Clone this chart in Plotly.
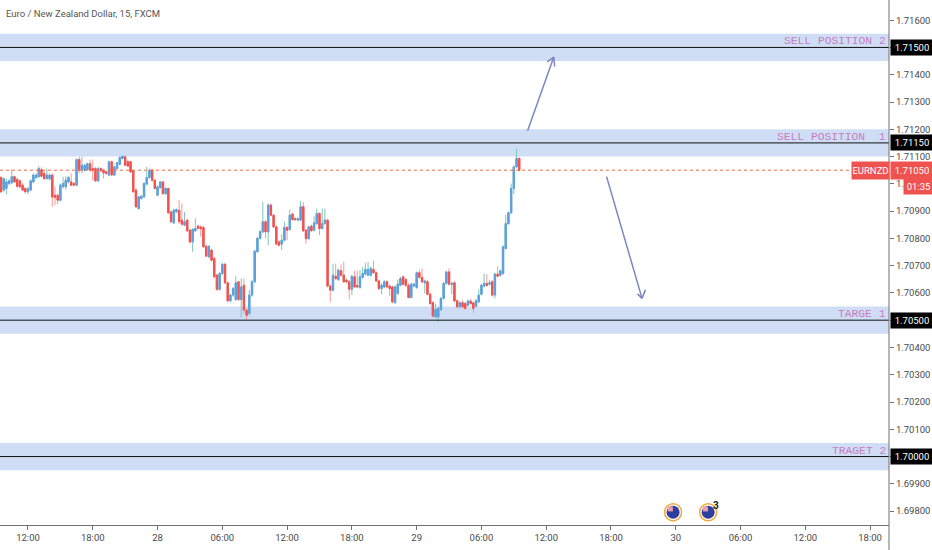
import plotly.graph_objects as go

# 15 minute bars, bar 0 is 27th 09:30
opens = [
    1.71023,1.70977,1.70983,1.71001,1.71004,1.71026,1.71016,1.71011,1.70995,1.70983,
    1.70971,1.70977,1.71007,1.71023,1.71026,1.71052,1.71038,1.71019,1.71018,1.71032,
    1.70958,1.70958,1.70940,1.70989,1.70989,1.71007,1.71007,1.71001,1.70995,1.71089,
    1.71050,1.71050,1.71052,1.71074,1.71056,1.71056,1.71011,1.71056,1.71050,1.71044,
    1.71032,1.71081,1.71032,1.71056,1.71072,1.71093,1.71099,1.71081,1.71081,1.71048,
    1.70977,1.70909,1.70946,1.70952,1.70999,1.71023,1.71050,1.71013,1.70958,1.70986,
    1.71007,1.70964,1.70983,1.70897,1.70857,1.70897,1.70903,1.70867,1.70848,1.70867,
    1.70830,1.70787,1.70828,1.70845,1.70842,1.70840,1.70771,1.70732,1.70757,1.70726,
    1.70665,1.70613,1.70671,1.70705,1.70637,1.70571,1.70592,1.70576,1.70641,1.70576,
    1.70628,1.70537,1.70525,1.70592,1.70641,1.70751,1.70800,1.70824,1.70861,1.70824,
    1.70922,1.70885,1.70842,1.70787,1.70779,1.70793,1.70840,1.70833,1.70889,1.70873,
    1.70867,1.70867,1.70916,1.70830,1.70799,1.70845,1.70830,1.70854,1.70891,1.70836,
    1.70854,1.70867,1.70625,1.70610,1.70661,1.70649,1.70681,1.70665,1.70647,1.70641,
    1.70613,1.70659,1.70627,1.70620,1.70657,1.70669,1.70665,1.70665,1.70686,1.70674,
    1.70644,1.70616,1.70622,1.70641,1.70625,1.70622,1.70564,1.70598,1.70628,1.70659,
    1.70649,1.70628,1.70583,1.70625,1.70620,1.70674,1.70657,1.70637,1.70641,1.70595,
    1.70564,1.70512,1.70512,1.70539,1.70580,1.70635,1.70677,1.70631,1.70637,1.70571,
    1.70549,1.70564,1.70561,1.70555,1.70570,1.70564,1.70551,1.70567,1.70595,1.70625,
    1.70635,1.70632,1.70641,1.70592,1.70669,1.70665,1.70671,1.70763,1.70854,1.70894,1.70983,1.71062,1.71093,
]
highs = [
    1.71028,1.71023,1.71019,1.71016,1.71052,1.71030,1.71023,1.71016,1.71004,1.70986,
    1.70989,1.71016,1.71038,1.71038,1.71065,1.71060,1.71048,1.71056,1.71038,1.71038,
    1.70989,1.70964,1.71001,1.71026,1.71028,1.71028,1.71038,1.71007,1.71093,1.71099,
    1.71099,1.71072,1.71077,1.71089,1.71089,1.71062,1.71062,1.71060,1.71055,1.71048,
    1.71084,1.71084,1.71067,1.71081,1.71101,1.71104,1.71103,1.71087,1.71084,1.71050,
    1.70983,1.70957,1.70958,1.71006,1.71062,1.71056,1.71055,1.71017,1.70994,1.71011,
    1.71011,1.70989,1.70986,1.70901,1.70909,1.70909,1.70940,1.70928,1.70897,1.70872,
    1.70835,1.70837,1.70873,1.70850,1.70847,1.70845,1.70776,1.70775,1.70762,1.70732,
    1.70669,1.70676,1.70710,1.70710,1.70642,1.70597,1.70622,1.70661,1.70644,1.70653,
    1.70653,1.70543,1.70610,1.70647,1.70757,1.70806,1.70830,1.70934,1.70867,1.70928,
    1.70928,1.70889,1.70847,1.70793,1.70815,1.70861,1.70845,1.70906,1.70894,1.70876,
    1.70876,1.70938,1.70933,1.70835,1.70847,1.70850,1.70881,1.70909,1.70896,1.70909,
    1.70909,1.70872,1.70630,1.70705,1.70708,1.70690,1.70705,1.70714,1.70653,1.70647,
    1.70665,1.70681,1.70681,1.70683,1.70696,1.70710,1.70714,1.70696,1.70718,1.70679,
    1.70649,1.70635,1.70647,1.70647,1.70630,1.70627,1.70627,1.70649,1.70659,1.70664,
    1.70654,1.70635,1.70637,1.70637,1.70679,1.70686,1.70690,1.70649,1.70647,1.70600,
    1.70569,1.70561,1.70549,1.70584,1.70640,1.70681,1.70690,1.70640,1.70642,1.70576,
    1.70569,1.70573,1.70566,1.70576,1.70578,1.70569,1.70578,1.70613,1.70633,1.70671,
    1.70669,1.70647,1.70647,1.70674,1.70698,1.70686,1.70774,1.70886,1.70898,1.71001,1.71067,1.71129,1.71099,
]
lows = [
    1.70967,1.70971,1.70962,1.70995,1.70999,1.71004,1.70986,1.70985,1.70973,1.70964,
    1.70962,1.70973,1.71004,1.71018,1.71023,1.71023,1.71016,1.71016,1.71013,1.70916,
    1.70922,1.70925,1.70935,1.70983,1.70979,1.71001,1.70991,1.70991,1.70991,1.71038,
    1.71038,1.71045,1.71048,1.71045,1.71013,1.71007,1.71007,1.71043,1.71019,1.71034,
    1.71028,1.71028,1.71028,1.71052,1.71068,1.71089,1.71065,1.71062,1.71040,1.70967,
    1.70911,1.70906,1.70942,1.70947,1.70994,1.71019,1.71008,1.70979,1.70955,1.70982,
    1.70960,1.70960,1.70889,1.70857,1.70852,1.70894,1.70854,1.70847,1.70845,1.70823,
    1.70781,1.70751,1.70823,1.70833,1.70806,1.70764,1.70732,1.70729,1.70715,1.70654,
    1.70608,1.70608,1.70666,1.70632,1.70566,1.70566,1.70586,1.70571,1.70571,1.70510,
    1.70525,1.70502,1.70518,1.70586,1.70635,1.70747,1.70796,1.70820,1.70800,1.70775,
    1.70881,1.70837,1.70775,1.70771,1.70757,1.70788,1.70793,1.70828,1.70864,1.70864,
    1.70863,1.70862,1.70823,1.70781,1.70796,1.70823,1.70825,1.70850,1.70812,1.70833,
    1.70850,1.70620,1.70567,1.70605,1.70647,1.70644,1.70661,1.70635,1.70635,1.70576,
    1.70592,1.70617,1.70617,1.70615,1.70652,1.70664,1.70661,1.70659,1.70669,1.70639,
    1.70610,1.70595,1.70617,1.70617,1.70588,1.70562,1.70561,1.70593,1.70625,1.70627,
    1.70622,1.70580,1.70580,1.70620,1.70615,1.70652,1.70635,1.70598,1.70591,1.70556,
    1.70510,1.70507,1.70494,1.70534,1.70576,1.70630,1.70627,1.70595,1.70566,1.70544,
    1.70544,1.70543,1.70538,1.70550,1.70556,1.70527,1.70547,1.70562,1.70591,1.70620,
    1.70622,1.70627,1.70586,1.70580,1.70657,1.70659,1.70666,1.70759,1.70850,1.70889,1.70962,1.71057,1.71045,
]
closes = [
    1.70971,1.71019,1.71007,1.71011,1.71026,1.71007,1.70991,1.70989,1.70977,1.70971,
    1.70982,1.71011,1.71032,1.71032,1.71056,1.71028,1.71019,1.71032,1.71032,1.70952,
    1.70950,1.70940,1.70995,1.71001,1.71013,1.71023,1.70995,1.70995,1.71089,1.71050,
    1.71068,1.71068,1.71074,1.71050,1.71050,1.71011,1.71056,1.71048,1.71040,1.71038,
    1.71081,1.71032,1.71062,1.71077,1.71096,1.71101,1.71068,1.71065,1.71044,1.70971,
    1.70916,1.70952,1.70955,1.71001,1.71023,1.71050,1.71013,1.70983,1.70989,1.71007,
    1.70964,1.70983,1.70894,1.70861,1.70903,1.70906,1.70861,1.70852,1.70861,1.70828,
    1.70787,1.70833,1.70836,1.70836,1.70835,1.70769,1.70735,1.70771,1.70720,1.70659,
    1.70613,1.70671,1.70705,1.70637,1.70571,1.70592,1.70616,1.70637,1.70576,1.70622,
    1.70537,1.70518,1.70592,1.70641,1.70753,1.70800,1.70824,1.70861,1.70824,1.70922,
    1.70885,1.70842,1.70779,1.70775,1.70793,1.70840,1.70830,1.70885,1.70869,1.70869,
    1.70873,1.70916,1.70828,1.70799,1.70842,1.70828,1.70857,1.70891,1.70836,1.70854,
    1.70867,1.70625,1.70610,1.70665,1.70653,1.70683,1.70665,1.70641,1.70641,1.70613,
    1.70661,1.70622,1.70622,1.70659,1.70671,1.70686,1.70686,1.70690,1.70674,1.70644,
    1.70616,1.70628,1.70641,1.70622,1.70616,1.70567,1.70622,1.70632,1.70653,1.70632,
    1.70628,1.70583,1.70632,1.70632,1.70674,1.70657,1.70641,1.70644,1.70595,1.70561,
    1.70515,1.70539,1.70543,1.70580,1.70635,1.70677,1.70632,1.70635,1.70571,1.70549,
    1.70564,1.70549,1.70543,1.70570,1.70561,1.70543,1.70571,1.70592,1.70628,1.70635,
    1.70628,1.70637,1.70592,1.70669,1.70661,1.70681,1.70769,1.70854,1.70894,1.70983,1.71062,1.71093,1.71050,
]
bars = list(range(len(opens)))

time_ticks = [10, 34, 58, 82, 106, 130, 154, 178, 202, 226, 250, 274, 298, 322]
time_labels = ["12:00", "18:00", "28", "06:00", "12:00", "18:00", "29", "06:00",
               "12:00", "18:00", "30", "06:00", "12:00", "18:00"]
price_ticks = [1.716, 1.715, 1.714, 1.713, 1.712, 1.711, 1.710, 1.709, 1.708, 1.707, 1.706,
               1.705, 1.704, 1.703, 1.702, 1.701, 1.700, 1.699, 1.698]

levels = [1.715, 1.7115, 1.705, 1.700]
level_names = ["SELL POSITION 2", "SELL POSITION\u00a0\u00a01", "TARGE 1", "TRAGET 2"]
band_half = 0.0005
last_price = 1.7105

arrow_bars = [(194.9, 204.8), (224.2, 237.5)]
arrow_prices = [(1.71189, 1.71465), (1.71032, 1.70580)]
event_bars = [249, 262]
event_prices = [1.69796, 1.69796]

UP = "#5f9fe0"
DOWN = "#ef5350"
TEXT = "#4a4a4a"
AXIS = "#6f7078"
ARROW = "#7a87c4"
FONT = "Roboto, sans-serif"
RIGHT = 889 / 932  # plot ends here, price scale fills the rest of the page

fig = go.Figure()

# wicks and bodies have different colours, so two traces
fig.add_trace(go.Candlestick(
    x=bars, open=opens, high=highs, low=lows, close=closes,
    increasing=dict(line=dict(color="#7fc4b8", width=1), fillcolor="#7fc4b8"),
    decreasing=dict(line=dict(color="#f59a9a", width=1), fillcolor="#f59a9a"),
    whiskerwidth=0, hoverinfo="skip", showlegend=False,
))
fig.add_trace(go.Candlestick(
    x=bars, open=opens, close=closes,
    high=[max(o, c) for o, c in zip(opens, closes)],
    low=[min(o, c) for o, c in zip(opens, closes)],
    increasing=dict(line=dict(color=UP, width=1), fillcolor=UP),
    decreasing=dict(line=dict(color=DOWN, width=1), fillcolor=DOWN),
    whiskerwidth=0, hoverinfo="skip", showlegend=False,
))

# news markers at the bottom
fig.add_trace(go.Scatter(
    x=event_bars, y=event_prices, mode="markers", hoverinfo="skip", showlegend=False,
    marker=dict(size=17, color="white", line=dict(color="#f2a93b", width=1.5)),
))
fig.add_trace(go.Scatter(
    x=event_bars, y=event_prices, mode="markers", hoverinfo="skip", showlegend=False,
    marker=dict(size=13, color="#2f3f9e"),
))
fig.add_trace(go.Scatter(
    x=[b - 1 for b in event_bars], y=[p + 0.00012 for p in event_prices], mode="markers",
    hoverinfo="skip", showlegend=False,
    marker=dict(size=5, color="#e8a0b0", symbol="square"),
))

annotations = []
for level, name in zip(levels, level_names):
    fig.add_shape(type="rect", xref="paper", x0=0, x1=RIGHT, yref="y", y0=level - band_half, y1=level + band_half,
                  fillcolor="#cfdef5", line_width=0, layer="below")
    fig.add_shape(type="line", xref="paper", x0=0, x1=RIGHT, yref="y", y0=level, y1=level,
                  line=dict(color="#111111", width=1))
    annotations.append(dict(xref="paper", x=RIGHT, xshift=-2, yref="y", y=level, yshift=-1, xanchor="right", yanchor="bottom",
                            text=name, showarrow=False, borderpad=0,
                            font=dict(family="Liberation Mono, monospace", size=11.3, color="#c77cc0")))
    annotations.append(dict(xref="paper", x=RIGHT, xshift=1, yref="y", y=level, xanchor="left", yanchor="middle",
                            text="%.5f" % level, showarrow=False, bgcolor="black", width=42, height=15, borderpad=0,
                            font=dict(family=FONT, size=9.5, color="white")))

fig.add_shape(type="line", xref="paper", x0=0, x1=RIGHT, yref="y", y0=last_price, y1=last_price,
              line=dict(color="#ef6c4a", width=1, dash="dot"))

annotations.append(dict(xref="paper", x=RIGHT, xshift=-38, yref="y", y=last_price, xanchor="left", yanchor="middle",
                        text="EURNZD", showarrow=False, bgcolor=DOWN, width=37, height=17, borderpad=0,
                        font=dict(family=FONT, size=9.5, color="white")))
annotations.append(dict(xref="paper", x=RIGHT, xshift=1, yref="y", y=last_price, xanchor="left", yanchor="middle",
                        text="%.5f" % last_price, showarrow=False, bgcolor=DOWN, width=42, height=17, borderpad=0,
                        font=dict(family=FONT, size=9.5, color="white")))
annotations.append(dict(xref="paper", x=RIGHT, xshift=14, yref="y", y=last_price, yshift=-16, xanchor="left", yanchor="middle",
                        text="01:35", showarrow=False, bgcolor=DOWN, width=29, height=15, borderpad=0,
                        font=dict(family=FONT, size=9.5, color="white")))

for (b0, b1), (p0, p1) in zip(arrow_bars, arrow_prices):
    annotations.append(dict(x=b1, y=p1, ax=b0, ay=p0, xref="x", yref="y", axref="x", ayref="y", text="",
                            showarrow=True, arrowhead=0, arrowwidth=1.5, arrowcolor=ARROW))
# open arrow heads, two short strokes back from each tip
for (b1, p1), prongs in zip([(arrow_bars[0][1], arrow_prices[0][1]), (arrow_bars[1][1], arrow_prices[1][1])],
                            [[(-8, 6), (1, 11)], [(-6, -6), (4, -10)]]):
    for ax, ay in prongs:
        annotations.append(dict(x=b1, y=p1, ax=ax, ay=ay, xref="x", yref="y", text="",
                                showarrow=True, arrowhead=0, arrowwidth=1.5, arrowcolor=ARROW))

annotations.append(dict(xref="paper", x=0, xshift=5, yref="paper", y=1, yshift=-7, xanchor="left", yanchor="top",
                        text="Euro / New Zealand Dollar, 15, FXCM", showarrow=False, borderpad=0,
                        font=dict(family=FONT, size=9.5, color="#555555")))
annotations.append(dict(x=event_bars[1], y=event_prices[1], xref="x", yref="y", xshift=8, yshift=7,
                        text="<b>3</b>", showarrow=False, borderpad=0,
                        font=dict(family=FONT, size=10, color="#222222")))

# price axis line runs down to the page edge
fig.add_shape(type="line", xref="paper", x0=RIGHT, x1=RIGHT, yref="paper", y0=-25 / 525, y1=1,
              line=dict(color=AXIS, width=1))

fig.update_layout(
    width=932, height=550,
    margin=dict(l=0, r=0, t=0, b=25),
    paper_bgcolor="white", plot_bgcolor="white",
    font=dict(family=FONT, color=TEXT, size=9.5),
    showlegend=False,
    annotations=annotations,
    xaxis=dict(domain=[0, RIGHT], range=[-0.37, 329.0], rangeslider=dict(visible=False), showgrid=False, zeroline=False,
               tickmode="array", tickvals=time_ticks, ticktext=time_labels,
               ticks="outside", ticklen=4, tickcolor=AXIS, showline=True, linecolor=AXIS,
               tickfont=dict(family=FONT, size=9.5, color=TEXT)),
    yaxis=dict(range=[1.69749, 1.71674], side="right", showgrid=False, zeroline=False,
               tickmode="array", tickvals=price_ticks, ticktext=["%.5f" % p for p in price_ticks],
               ticks="outside", ticklen=4, tickcolor=AXIS, showline=False,
               tickfont=dict(family=FONT, size=9.5, color=TEXT)),
)

fig.write_html("out.html", config={"displayModeBar": False}, post_script="document.body.style.margin='0';")
